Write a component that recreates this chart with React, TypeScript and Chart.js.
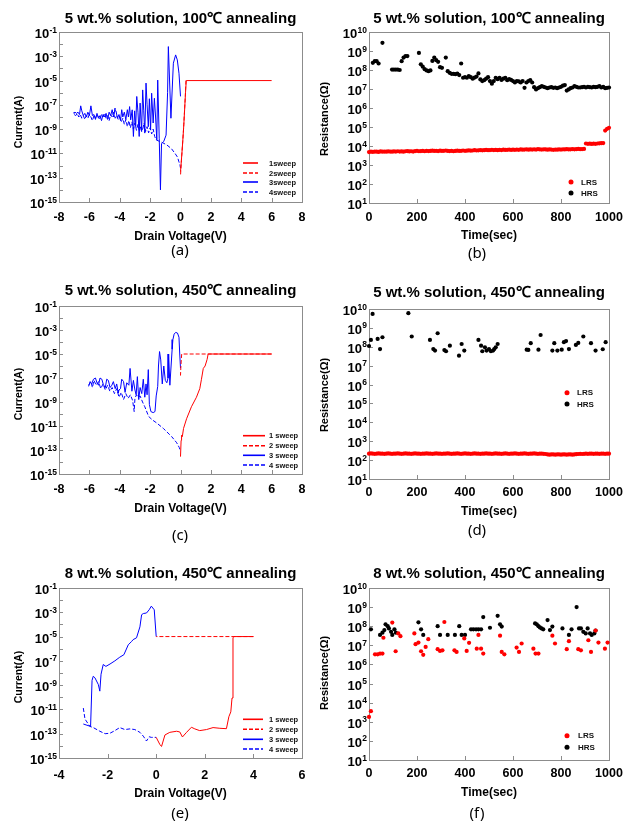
import React, { useEffect, useRef } from 'react';
import { Chart, registerables } from 'chart.js';

Chart.register(...registerables);

const SANS = "'Liberation Sans', Arial, Helvetica, sans-serif";
const CAPTION_FONT = "'Noto Sans', 'DejaVu Sans', sans-serif";

type Pair = [number, number];

// ---------------- axis ticks ----------------
const currentTicks = [1e-15, 1e-14, 1e-13, 1e-12, 1e-11, 1e-10, 1e-9, 1e-8, 1e-7, 1e-6, 1e-5, 1e-4, 1e-3, 1e-2, 1e-1];
const currentTickLabels = [1e-15, 1e-13, 1e-11, 1e-9, 1e-7, 1e-5, 1e-3, 1e-1];
const resistanceTicks = [1e1, 1e2, 1e3, 1e4, 1e5, 1e6, 1e7, 1e8, 1e9, 1e10];
const voltTicksWide = [-8, -6, -4, -2, 0, 2, 4, 6, 8];
const voltTicksNarrow = [-4, -2, 0, 2, 4, 6];
const timeTicks = [0, 200, 400, 600, 800, 1000];

// ---------------- (a) 5 wt.%, 100C : I-V sweeps [V, A] ----------------
const sweepA1: Pair[] = [[0, 3.2e-13], [0.08, 6.3e-12], [0.15, 1.0e-10], [0.22, 2.5e-9], [0.28, 6.3e-8], [0.33, 1.0e-6], [0.38, 1.0e-5], [6.0, 1.0e-5]];
const sweepA2: Pair[] = [[0.36, 1.0e-5], [0.32, 6.3e-7], [0.26, 2.5e-8], [0.2, 1.0e-9], [0.12, 3.2e-11], [0.06, 2.5e-12], [0.02, 4.0e-13], [0, 1.3e-13]];
const sweepA3: Pair[] = [
  [0, 5.0e-7], [-0.1, 4.0e-5], [-0.21, 5.0e-4], [-0.32, 1.3e-3], [-0.47, 2.7e-4], [-0.63, 7.9e-9], [-0.8, 6.3e-3], [-0.85, 1.0e-6],
  [-0.95, 3.2e-10], [-1.1, 1.0e-10], [-1.25, 6.3e-11], [-1.32, 1.0e-14], [-1.4, 1.6e-10], [-1.5, 1.1e-5], [-1.56, 1.3e-10], [-1.64, 1.0e-8],
  [-1.72, 3.5e-7], [-1.8, 3.2e-9], [-1.9, 9.1e-7], [-1.97, 8.7e-10], [-2.05, 3.2e-7], [-2.12, 1.6e-9], [-2.2, 1.0e-7], [-2.27, 6.2e-6],
  [-2.35, 4.7e-10], [-2.42, 3.2e-8], [-2.49, 1.7e-6], [-2.56, 6.3e-10], [-2.66, 1.4e-7], [-2.72, 2.5e-10], [-2.8, 2.5e-8], [-2.88, 4.9e-7],
  [-2.95, 1.6e-9], [-3.02, 3.2e-8], [-3.1, 2.5e-10], [-3.18, 3.9e-8], [-3.28, 5.8e-9], [-3.35, 7.2e-8], [-3.43, 1.0e-8], [-3.5, 4.0e-8],
  [-3.6, 6.3e-9], [-3.7, 2.5e-8], [-3.8, 1.0e-8], [-3.87, 4.0e-8], [-3.95, 5.0e-9], [-4.05, 1.6e-8], [-4.15, 7.9e-9], [-4.25, 3.2e-8],
  [-4.31, 5.4e-8], [-4.4, 1.0e-8], [-4.5, 4.0e-8], [-4.6, 1.3e-8], [-4.7, 2.5e-8], [-4.8, 6.3e-9], [-4.9, 2.0e-8], [-5.0, 1.0e-8],
  [-5.1, 1.6e-8], [-5.2, 5.0e-9], [-5.3, 1.3e-8], [-5.4, 7.9e-9], [-5.5, 2.0e-8], [-5.6, 6.3e-9], [-5.7, 1.6e-8], [-5.8, 1.3e-8],
  [-5.9, 8.3e-8], [-6.0, 1.3e-8], [-6.1, 2.5e-8], [-6.2, 1.0e-8], [-6.3, 2.0e-8], [-6.4, 1.3e-8], [-6.5, 3.2e-8], [-6.57, 8.3e-8],
  [-6.65, 1.6e-8], [-6.75, 2.5e-8], [-6.85, 2.0e-8], [-6.95, 2.5e-8], [-7.0, 2.0e-8],
];
const sweepA4: Pair[] = [
  [-7.0, 1.6e-8], [-6.9, 1.3e-8], [-6.8, 2.0e-8], [-6.7, 1.0e-8], [-6.6, 1.6e-8], [-6.5, 7.9e-9], [-6.4, 1.3e-8], [-6.3, 6.3e-9],
  [-6.2, 1.3e-8], [-6.1, 7.9e-9], [-6.0, 1.6e-8], [-5.9, 1.0e-8], [-5.8, 5.0e-9], [-5.7, 1.3e-8], [-5.6, 7.9e-9], [-5.5, 1.6e-8],
  [-5.4, 1.0e-8], [-5.3, 6.3e-9], [-5.2, 1.6e-8], [-5.1, 1.0e-8], [-5.0, 2.0e-8], [-4.9, 7.9e-9], [-4.8, 1.3e-8], [-4.7, 5.0e-9],
  [-4.6, 1.6e-8], [-4.5, 1.0e-8], [-4.4, 2.5e-8], [-4.3, 7.9e-9], [-4.2, 1.3e-8], [-4.1, 6.3e-9], [-4.0, 1.0e-8], [-3.9, 4.0e-9],
  [-3.8, 7.9e-9], [-3.7, 2.5e-9], [-3.6, 6.3e-9], [-3.5, 1.6e-9], [-3.4, 5.0e-9], [-3.3, 1.3e-9], [-3.2, 4.0e-9], [-3.1, 1.0e-9],
  [-3.0, 3.2e-9], [-2.9, 7.9e-10], [-2.8, 2.5e-9], [-2.7, 6.3e-10], [-2.6, 2.0e-9], [-2.5, 7.9e-10], [-2.4, 3.2e-9], [-2.3, 6.3e-10],
  [-2.2, 1.6e-9], [-2.1, 5.0e-10], [-2.0, 1.3e-9], [-1.9, 4.0e-10], [-1.8, 1.0e-9], [-1.7, 2.5e-10], [-1.6, 1.3e-10], [-1.4, 1.0e-10],
  [-1.2, 7.9e-11], [-0.9, 5.0e-11], [-0.6, 2.5e-11], [-0.36, 1.0e-11], [-0.2, 5.0e-12], [-0.1, 2.0e-12], [-0.03, 1.0e-12], [0, 6.3e-13],
];

// ---------------- (c) 5 wt.%, 450C ----------------
const sweepC1: Pair[] = [
  [0, 2.8e-14], [0.04, 6.3e-13], [0.07, 1.7e-12], [0.12, 1.3e-12], [0.2, 6.3e-12], [0.4, 4.0e-11], [0.72, 4.0e-10], [1.05, 2.5e-9],
  [1.27, 1.3e-8], [1.38, 7.9e-8], [1.5, 6.3e-7], [1.62, 1.0e-6], [1.75, 3.5e-6], [1.82, 1.0e-5], [6.0, 1.0e-5],
];
const sweepC2: Pair[] = [[6.0, 1.0e-5], [0.08, 1.0e-5], [0.05, 3.2e-6], [0.02, 6.3e-7], [0, 1.6e-7]];
const sweepC3: Pair[] = [
  [0, 6.3e-7], [-0.05, 1.0e-5], [-0.1, 2.5e-4], [-0.2, 5.6e-4], [-0.32, 6.3e-4], [-0.42, 4.5e-4], [-0.5, 1.6e-4], [-0.55, 2.5e-5],
  [-0.62, 1.0e-6], [-0.7, 2.5e-8], [-0.78, 1.0e-5], [-0.82, 1.0e-7], [-0.9, 4.0e-8], [-1.0, 6.3e-8], [-1.1, 1.0e-6], [-1.2, 3.2e-8],
  [-1.3, 3.2e-6], [-1.38, 1.6e-5], [-1.45, 1.0e-6], [-1.5, 2.0e-8], [-1.6, 3.2e-9], [-1.68, 1.6e-10], [-1.8, 1.3e-10], [-1.95, 1.6e-10],
  [-2.05, 6.3e-10], [-2.12, 5.0e-7], [-2.2, 4.0e-9], [-2.27, 3.2e-8], [-2.35, 2.5e-9], [-2.45, 7.9e-8], [-2.55, 5.0e-9], [-2.66, 1.6e-8],
  [-2.75, 1.6e-9], [-2.84, 1.3e-7], [-2.92, 4.0e-9], [-3.0, 1.0e-8], [-3.1, 6.3e-8], [-3.2, 7.9e-9], [-3.32, 6.3e-7], [-3.4, 2.5e-8],
  [-3.54, 4.0e-8], [-3.65, 6.3e-9], [-3.75, 5.0e-8], [-3.87, 7.9e-8], [-3.95, 1.3e-8], [-4.05, 1.0e-8], [-4.1, 5.6e-9], [-4.2, 3.2e-8],
  [-4.3, 1.3e-8], [-4.42, 5.0e-8], [-4.52, 2.5e-8], [-4.64, 1.6e-8], [-4.75, 6.3e-8], [-4.86, 7.9e-8], [-4.95, 1.6e-8], [-5.08, 2.8e-8],
  [-5.18, 7.9e-8], [-5.3, 1.0e-7], [-5.4, 2.5e-8], [-5.5, 4.0e-8], [-5.6, 1.0e-7], [-5.73, 7.9e-8], [-5.85, 3.2e-8], [-5.95, 5.0e-8],
  [-6.05, 2.0e-8],
];
const sweepC4: Pair[] = [
  [-6.05, 2.5e-8], [-5.9, 5.0e-8], [-5.8, 1.6e-8], [-5.7, 6.3e-8], [-5.55, 2.5e-8], [-5.4, 5.0e-8], [-5.25, 1.3e-8], [-5.1, 3.2e-8],
  [-4.95, 1.0e-8], [-4.8, 2.5e-8], [-4.65, 7.9e-9], [-4.5, 1.6e-8], [-4.35, 5.0e-9], [-4.2, 1.3e-8], [-4.05, 2.5e-9], [-3.9, 6.3e-9],
  [-3.75, 1.6e-9], [-3.6, 5.0e-9], [-3.45, 2.0e-9], [-3.3, 4.0e-9], [-3.15, 1.3e-9], [-3.05, 1.6e-10], [-3.0, 2.0e-9], [-2.9, 4.0e-9],
  [-2.8, 2.5e-9], [-2.66, 3.2e-9], [-2.5, 1.0e-9], [-2.35, 4.0e-10], [-2.1, 6.3e-11], [-1.85, 3.2e-11], [-1.57, 1.8e-11], [-1.13, 6.3e-12],
  [-0.58, 1.3e-12], [-0.25, 4.0e-13], [-0.08, 1.6e-13], [0, 7.9e-14],
];

// ---------------- (e) 8 wt.%, 450C ----------------
const sweepE1: Pair[] = [
  [0, 5.0e-14], [0.15, 1.3e-14], [0.22, 8.9e-15], [0.36, 7.9e-14], [0.56, 1.3e-13], [0.84, 1.6e-13], [0.97, 1.4e-13], [1.08, 5.4e-14],
  [1.25, 1.3e-13], [1.45, 3.4e-13], [1.59, 2.5e-13], [1.79, 1.8e-13], [2.07, 2.2e-13], [2.34, 3.2e-13], [2.62, 2.8e-13], [2.89, 2.6e-13],
  [2.99, 2.5e-12], [3.07, 6.3e-12], [3.12, 8.7e-11], [3.16, 7.9e-6], [3.2, 1.0e-5], [4.0, 1.0e-5],
];
const sweepE2: Pair[] = [[4.0, 1.0e-5], [0, 1.0e-5]];
const sweepE3: Pair[] = [
  [0, 1.0e-5], [-0.08, 1.6e-3], [-0.2, 3.2e-3], [-0.29, 1.6e-3], [-0.4, 8.7e-4], [-0.53, 7.9e-4], [-0.6, 6.3e-4], [-0.67, 6.3e-5],
  [-0.81, 7.9e-6], [-0.95, 5.6e-6], [-1.01, 4.0e-6], [-1.15, 2.1e-6], [-1.33, 3.2e-7], [-1.5, 2.0e-7], [-1.7, 1.0e-7], [-1.9, 5.5e-8],
  [-2.07, 3.5e-8], [-2.18, 5.0e-8], [-2.27, 7.9e-9], [-2.32, 3.2e-10], [-2.38, 1.1e-9], [-2.52, 4.0e-9], [-2.59, 5.4e-9], [-2.64, 2.5e-9],
  [-2.7, 4.0e-13], [-2.85, 5.0e-13], [-3.0, 6.3e-13],
];
const sweepE4: Pair[] = [
  [-3.0, 1.3e-11], [-2.93, 1.6e-12], [-2.73, 4.0e-13], [-2.59, 3.2e-13], [-2.32, 1.6e-13], [-2.1, 1.0e-13], [-1.9, 1.1e-13], [-1.7, 1.8e-13],
  [-1.5, 3.2e-13], [-1.29, 2.2e-13], [-1.08, 2.5e-13], [-0.88, 2.2e-13], [-0.67, 1.3e-13], [-0.53, 6.3e-14], [-0.4, 2.5e-14], [-0.29, 5.6e-14],
  [-0.2, 5.0e-14], [0, 5.0e-14],
];

// ---------------- retention time grid (sec) for (b) and (d) LRS ----------------
const timeGrid = [
  0, 8, 16, 24, 32, 40, 48, 56, 64, 72,
  80, 88, 96, 104, 112, 120, 128, 136, 144, 152,
  160, 168, 176, 184, 192, 200, 208, 216, 224, 232,
  240, 248, 256, 264, 272, 280, 288, 296, 304, 312,
  320, 328, 336, 344, 352, 360, 368, 376, 384, 392,
  400, 408, 416, 424, 432, 440, 448, 456, 464, 472,
  480, 488, 496, 504, 512, 520, 528, 536, 544, 552,
  560, 568, 576, 584, 592, 600, 608, 616, 624, 632,
  640, 648, 656, 664, 672, 680, 688, 696, 704, 712,
  720, 728, 736, 744, 752, 760, 768, 776, 784, 792,
  800, 808, 816, 824, 832, 840, 848, 856, 864, 872,
  880, 888, 896, 904, 912, 920, 928, 936, 944, 952,
  960, 968, 976, 984, 992, 1000,
];

// (b) LRS / HRS (ohm)
const lrsB = [
  4.8e3, 5.0e3, 4.9e3, 5.1e3, 5.0e3, 4.9e3, 5.2e3, 5.0e3, 5.1e3, 5.0e3,
  5.2e3, 5.1e3, 5.0e3, 5.2e3, 5.1e3, 5.3e3, 5.1e3, 5.2e3, 5.0e3, 5.3e3,
  5.4e3, 5.2e3, 5.3e3, 5.1e3, 5.4e3, 5.6e3, 5.3e3, 5.4e3, 5.5e3, 5.3e3,
  5.6e3, 5.4e3, 5.5e3, 5.7e3, 5.5e3, 5.6e3, 5.4e3, 5.7e3, 5.5e3, 5.6e3,
  5.8e3, 5.5e3, 5.4e3, 5.6e3, 5.3e3, 5.5e3, 5.7e3, 5.5e3, 5.6e3, 5.8e3,
  5.6e3, 5.7e3, 5.9e3, 5.7e3, 5.8e3, 6.0e3, 5.8e3, 5.9e3, 6.1e3, 5.9e3,
  6.0e3, 6.2e3, 6.0e3, 6.1e3, 6.3e3, 6.1e3, 6.2e3, 6.0e3, 6.3e3, 6.1e3,
  6.4e3, 6.2e3, 6.3e3, 6.5e3, 6.2e3, 6.4e3, 6.3e3, 6.5e3, 6.3e3, 6.6e3,
  6.4e3, 6.5e3, 6.7e3, 6.4e3, 6.6e3, 6.5e3, 6.7e3, 6.5e3, 6.8e3, 6.6e3,
  6.5e3, 6.7e3, 6.6e3, 6.4e3, 6.6e3, 6.5e3, 6.3e3, 6.5e3, 6.4e3, 6.6e3,
  6.5e3, 6.7e3, 6.6e3, 6.8e3, 6.6e3, 6.7e3, 6.9e3, 6.7e3, 6.8e3, 7.0e3,
  6.8e3, 6.9e3, 7.0e3, 1.35e4, 1.30e4, 1.32e4, 1.28e4, 1.33e4, 1.30e4, 1.35e4,
  1.38e4, 1.40e4, 1.42e4, 6.5e4, 8.0e4, 9.0e4,
];
const hrsB = [
  null, null, 2.4e8, 2.9e8, 2.9e8, 2.2e8, null, 2.7e9, null, null,
  null, null, 1.05e8, 1.05e8, 1.05e8, 1.05e8, 1.0e8, 2.9e8, 4.5e8, 5.4e8,
  5.4e8, null, null, null, null, null, 7.9e8, 2.0e8, 1.5e8, 1.1e8,
  9.5e7, 8.7e7, 9.5e7, 3.0e8, 4.5e8, 3.3e8, 2.7e8, 1.4e8, 1.3e8, null,
  4.5e8, 8.7e7, 7.1e7, 6.3e7, 6.3e7, 6.0e7, 6.5e7, 5.4e7, 2.2e8, 3.9e7,
  4.2e7, 3.9e7, 4.8e7, 4.2e7, 3.5e7, 4.0e7, 4.5e7, 6.6e7, 3.2e7, 2.6e7,
  2.9e7, 3.5e7, 4.2e7, 2.6e7, 1.9e7, 2.6e7, 3.9e7, 3.3e7, 3.9e7, 3.0e7,
  3.5e7, 3.9e7, 2.9e7, 3.3e7, 3.0e7, 2.6e7, 2.2e7, 2.6e7, 2.5e7, 2.2e7,
  2.6e7, 1.15e7, 2.2e7, 2.6e7, 2.9e7, 2.2e7, 1.25e7, 9.5e6, 1.1e7, 1.25e7,
  1.4e7, 1.3e7, 1.2e7, 1.1e7, 1.2e7, 1.25e7, 1.15e7, 1.2e7, 1.1e7, 1.2e7,
  1.3e7, 1.5e7, 1.6e7, 8.3e6, 9.5e6, 1.1e7, 1.2e7, 1.4e7, 1.3e7, 1.2e7,
  1.2e7, 1.25e7, 1.3e7, 1.2e7, 1.3e7, 1.25e7, 1.2e7, 1.3e7, 1.25e7, 1.3e7,
  1.4e7, 1.2e7, 1.3e7, 1.1e7, 1.15e7, 1.2e7,
];

// (d) LRS on time grid, HRS at its own times
const lrsD = [
  2.2e2, 2.25e2, 2.2e2, 2.15e2, 2.2e2, 2.25e2, 2.2e2, 2.2e2, 2.15e2, 2.2e2,
  2.25e2, 2.2e2, 2.15e2, 2.2e2, 2.2e2, 2.25e2, 2.2e2, 2.15e2, 2.2e2, 2.25e2,
  2.2e2, 2.2e2, 2.15e2, 2.2e2, 2.25e2, 2.2e2, 2.2e2, 2.15e2, 2.2e2, 2.2e2,
  2.25e2, 2.2e2, 2.2e2, 2.15e2, 2.2e2, 2.25e2, 2.2e2, 2.2e2, 2.15e2, 2.2e2,
  2.2e2, 2.25e2, 2.2e2, 2.15e2, 2.2e2, 2.2e2, 2.25e2, 2.2e2, 2.15e2, 2.2e2,
  2.25e2, 2.2e2, 2.2e2, 2.15e2, 2.2e2, 2.25e2, 2.2e2, 2.2e2, 2.15e2, 2.2e2,
  2.2e2, 2.25e2, 2.2e2, 2.2e2, 2.15e2, 2.2e2, 2.25e2, 2.2e2, 2.2e2, 2.15e2,
  2.2e2, 2.25e2, 2.2e2, 2.15e2, 2.2e2, 2.2e2, 2.25e2, 2.2e2, 2.15e2, 2.2e2,
  2.2e2, 2.25e2, 2.2e2, 2.15e2, 2.2e2, 2.2e2, 2.25e2, 2.2e2, 2.15e2, 2.2e2,
  2.2e2, 2.15e2, 2.1e2, 2.0e2, 1.95e2, 2.0e2, 2.0e2, 1.95e2, 2.0e2, 2.0e2,
  1.95e2, 2.0e2, 2.0e2, 1.95e2, 2.0e2, 2.0e2, 1.95e2, 2.0e2, 2.05e2, 2.1e2,
  2.15e2, 2.1e2, 2.15e2, 2.2e2, 2.15e2, 2.2e2, 2.2e2, 2.15e2, 2.2e2, 2.2e2,
  2.15e2, 2.2e2, 2.2e2, 2.15e2, 2.2e2, 2.2e2,
];
const hrsDTime = [
  0, 8, 15, 36, 46, 56, 164, 178, 254, 268, 275, 286, 314, 321, 337, 375, 386, 397,
  456, 467, 472, 483, 490, 500, 508, 517, 522, 528, 536, 657, 664, 674, 706, 715,
  764, 772, 785, 803, 812, 821, 833, 862, 872, 893, 925, 944, 974, 986,
];
const hrsD = [
  1.1e8, 2.3e8, 5.5e9, 2.6e8, 7.6e7, 3.2e8, 6.0e9, 3.5e8, 2.3e8, 7.6e7, 6.3e7, 5.2e8, 6.7e7, 5.8e7, 1.15e8, 3.4e7, 1.4e8, 6.3e7,
  2.3e8, 1.15e8, 5.8e7, 9.3e7, 6.3e7, 7.6e7, 5.8e7, 6.3e7, 7.6e7, 9.3e7, 1.4e8, 7.0e7, 6.8e7, 1.55e8, 7.0e7, 4.2e8,
  6.3e7, 1.55e8, 6.3e7, 7.0e7, 1.75e8, 2.0e8, 7.6e7, 1.25e8, 1.6e8, 3.5e8, 1.55e8, 6.3e7, 7.4e7, 1.75e8,
];

// (f) LRS / HRS at their own times
const lrsFTime = [
  0, 8, 25, 36, 46, 56, 60, 97, 111, 122, 131, 189, 194, 206, 217, 226, 236, 247, 286, 296, 306, 314,
  356, 365, 397, 407, 417, 449, 456, 467, 476, 546, 553, 564, 615, 625, 636, 685, 694, 706, 764, 775,
  824, 833, 872, 883, 914, 925, 944, 956, 983, 994,
];
const lrsF = [
  1.8e3, 3.6e3, 3.4e6, 3.4e6, 3.7e6, 3.7e6, 2.5e7, 1.55e8, 4.9e6, 4.2e7, 3.0e7, 4.2e7, 1.15e7, 1.4e7, 4.9e6, 3.2e6, 8.3e6, 2.1e7, 6.3e6, 5.1e6, 5.5e6, 1.66e8,
  5.5e6, 4.5e6, 2.3e7, 5.1e6, 1.35e7, 6.7e6, 3.5e7, 6.7e6, 3.7e6, 3.2e7, 4.5e6, 3.4e6, 7.6e6, 4.5e6, 1.25e7, 6.7e6, 3.7e6, 3.7e6, 3.2e7, 1.25e7,
  6.3e6, 1.66e7, 6.3e6, 5.5e6, 1.85e7, 4.5e6, 5.9e7, 1.4e7, 6.7e6, 1.4e7,
];
const hrsFTime = [
  8, 46, 56, 64, 69, 78, 83, 92, 97, 106, 112, 206, 217, 226, 286, 296, 328, 358, 376, 386, 400,
  425, 435, 446, 456, 467, 476, 504, 536, 546, 553, 692, 699, 706, 712, 719, 726, 744, 754, 764,
  806, 833, 844, 865, 875, 883, 893, 903, 911, 921, 928, 939, 944,
];
const hrsF = [
  6.9e7, 3.5e7, 4.6e7, 6.3e7, 1.26e8, 1.0e8, 7.7e7, 5.1e7, 3.5e7, 6.9e7, 4.6e7, 1.6e8, 6.9e7, 3.5e7, 1.0e8, 3.5e7, 3.5e7, 3.5e7, 1.0e8, 3.5e7, 3.5e7,
  6.9e7, 6.9e7, 6.9e7, 6.9e7, 6.9e7, 3.0e8, 8.3e7, 3.5e8, 1.26e8, 9.6e7, 1.4e8, 1.26e8, 1.0e8, 8.7e7, 7.7e7, 6.9e7, 2.1e8, 6.3e7, 9.6e7,
  7.7e7, 3.5e7, 6.9e7, 1.0e9, 7.7e7, 7.7e7, 5.1e7, 4.2e7, 7.7e7, 4.2e7, 3.5e7, 4.2e7, 5.9e7,
];

// ---------------- panel definitions ----------------
const RED = '#ff0000';
const BLUE = '#0000ff';

interface LineSeries { label: string; pts: Pair[]; color: string; dashed: boolean }
interface PointSeries { label: string; t: number[]; r: (number | null)[]; color: string }
interface PanelSpec {
  left: number; top: number; w: number; h: number;
  area: { l: number; r: number; t: number; b: number };
  title: string; titleY: number;
  xMin: number; xMax: number; xTicks: number[]; xTickY: number;
  xTitle: string; xTitleY: number;
  yMin: number; yMax: number; yTicks: number[]; yLabels: number[];
  yTitle: string; yTitleX: number; yTitleY: number; yTitleSize: number;
  caption: string; captionX: number; captionY: number;
  lines: LineSeries[]; points: PointSeries[];
  legend: { rows: number[]; x0: number; x1: number; textX: number; size: number };
}

const ivLines = (s1: Pair[], s2: Pair[], s3: Pair[], s4: Pair[], spaced: boolean): LineSeries[] => {
  const sp = spaced ? ' ' : '';
  return [
    { label: `1${sp}sweep`, pts: s1, color: RED, dashed: false },
    { label: `2${sp}sweep`, pts: s2, color: RED, dashed: true },
    { label: `3${sp}sweep`, pts: s3, color: BLUE, dashed: false },
    { label: `4${sp}sweep`, pts: s4, color: BLUE, dashed: true },
  ];
};

const panels: PanelSpec[] = [
  {
    left: 0, top: 0, w: 315, h: 270, area: { l: 59, r: 302, t: 32, b: 202 },
    title: '5 wt.% solution, 100℃ annealing', titleY: 23,
    xMin: -8, xMax: 8, xTicks: voltTicksWide, xTickY: 221, xTitle: 'Drain Voltage(V)', xTitleY: 240,
    yMin: 1e-15, yMax: 1e-1, yTicks: currentTicks, yLabels: currentTickLabels,
    yTitle: 'Current(A)', yTitleX: 19, yTitleY: 122, yTitleSize: 10.5,
    caption: '(a)', captionX: 180, captionY: 255,
    lines: ivLines(sweepA1, sweepA2, sweepA3, sweepA4, false), points: [],
    legend: { rows: [163, 173, 182, 192], x0: 243, x1: 258, textX: 269, size: 7.5 },
  },
  {
    left: 315, top: 0, w: 316, h: 270, area: { l: 54, r: 294, t: 32, b: 203 },
    title: '5 wt.% solution, 100℃ annealing', titleY: 23,
    xMin: 0, xMax: 1000, xTicks: timeTicks, xTickY: 221, xTitle: 'Time(sec)', xTitleY: 239,
    yMin: 1e1, yMax: 1e10, yTicks: resistanceTicks, yLabels: resistanceTicks,
    yTitle: 'Resistance(Ω)', yTitleX: 10, yTitleY: 119, yTitleSize: 11,
    caption: '(b)', captionX: 162, captionY: 258,
    lines: [],
    points: [
      { label: 'LRS', t: timeGrid, r: lrsB, color: RED },
      { label: 'HRS', t: timeGrid, r: hrsB, color: '#000000' },
    ],
    legend: { rows: [182, 193], x0: 256, x1: 256, textX: 266, size: 8 },
  },
  {
    left: 0, top: 270, w: 315, h: 275, area: { l: 59, r: 302, t: 36, b: 204 },
    title: '5 wt.% solution, 450℃ annealing', titleY: 25,
    xMin: -8, xMax: 8, xTicks: voltTicksWide, xTickY: 223, xTitle: 'Drain Voltage(V)', xTitleY: 242,
    yMin: 1e-15, yMax: 1e-1, yTicks: currentTicks, yLabels: currentTickLabels,
    yTitle: 'Current(A)', yTitleX: 19, yTitleY: 124, yTitleSize: 10.5,
    caption: '(c)', captionX: 180, captionY: 270,
    lines: ivLines(sweepC1, sweepC2, sweepC3, sweepC4, true), points: [],
    legend: { rows: [165.7, 175.7, 185.3, 195], x0: 243, x1: 265, textX: 269, size: 7.5 },
  },
  {
    left: 315, top: 270, w: 316, h: 275, area: { l: 54, r: 294, t: 39, b: 209 },
    title: '5 wt.% solution, 450℃ annealing', titleY: 27,
    xMin: 0, xMax: 1000, xTicks: timeTicks, xTickY: 226, xTitle: 'Time(sec)', xTitleY: 245,
    yMin: 1e1, yMax: 1e10, yTicks: resistanceTicks, yLabels: resistanceTicks,
    yTitle: 'Resistance(Ω)', yTitleX: 10, yTitleY: 125, yTitleSize: 11,
    caption: '(d)', captionX: 162, captionY: 265,
    lines: [],
    points: [
      { label: 'LRS', t: timeGrid, r: lrsD, color: RED },
      { label: 'HRS', t: hrsDTime, r: hrsD, color: '#000000' },
    ],
    legend: { rows: [122.7, 134], x0: 252, x1: 252, textX: 262, size: 8 },
  },
  {
    left: 0, top: 545, w: 315, h: 278, area: { l: 59, r: 302, t: 43, b: 213 },
    title: '8 wt.% solution, 450℃ annealing', titleY: 33,
    xMin: -4, xMax: 6, xTicks: voltTicksNarrow, xTickY: 234, xTitle: 'Drain Voltage(V)', xTitleY: 251.5,
    yMin: 1e-15, yMax: 1e-1, yTicks: currentTicks, yLabels: currentTickLabels,
    yTitle: 'Current(A)', yTitleX: 19, yTitleY: 132, yTitleSize: 10.5,
    caption: '(e)', captionX: 180, captionY: 273,
    lines: ivLines(sweepE1, sweepE2, sweepE3, sweepE4, true), points: [],
    legend: { rows: [174.3, 184.3, 194.3, 204], x0: 243, x1: 263, textX: 269, size: 7.5 },
  },
  {
    left: 315, top: 545, w: 316, h: 278, area: { l: 54, r: 294, t: 43, b: 215 },
    title: '8 wt.% solution, 450℃ annealing', titleY: 33,
    xMin: 0, xMax: 1000, xTicks: timeTicks, xTickY: 232, xTitle: 'Time(sec)', xTitleY: 250.5,
    yMin: 1e1, yMax: 1e10, yTicks: resistanceTicks, yLabels: resistanceTicks,
    yTitle: 'Resistance(Ω)', yTitleX: 10, yTitleY: 128, yTitleSize: 11,
    caption: '(f)', captionX: 162, captionY: 273,
    lines: [],
    points: [
      { label: 'LRS', t: lrsFTime, r: lrsF, color: RED },
      { label: 'HRS', t: hrsFTime, r: hrsF, color: '#000000' },
    ],
    legend: { rows: [190.7, 202.3], x0: 252, x1: 252, textX: 263, size: 8 },
  },
];

// ---------------- drawing helpers ----------------
function makeDecor(spec: PanelSpec) {
  return {
    id: 'decor',
    beforeDatasetsDraw(chart: any) {
      const { ctx, chartArea: a, scales } = chart;
      ctx.save();
      ctx.strokeStyle = '#8c8c8c';
      ctx.lineWidth = 1;
      ctx.strokeRect(a.left + 0.5, a.top + 0.5, a.right - a.left, a.bottom - a.top);
      ctx.beginPath();
      for (const v of spec.yTicks) {
        const y = Math.round(scales.y.getPixelForValue(v)) + 0.5;
        ctx.moveTo(a.left, y);
        ctx.lineTo(a.left + 4, y);
      }
      for (const v of spec.xTicks) {
        const x = Math.round(scales.x.getPixelForValue(v)) + 0.5;
        ctx.moveTo(x, a.bottom);
        ctx.lineTo(x, a.bottom - 4);
      }
      ctx.stroke();
      ctx.restore();
    },
    afterDraw(chart: any) {
      const { ctx, chartArea: a, scales } = chart;
      const cx = (a.left + a.right) / 2;
      ctx.save();
      ctx.fillStyle = '#000';
      ctx.textBaseline = 'alphabetic';

      // title
      ctx.font = `bold 15px ${SANS}`;
      ctx.textAlign = 'center';
      ctx.fillText(spec.title, cx, spec.titleY);

      // x tick labels
      ctx.font = `bold 12.5px ${SANS}`;
      for (const v of spec.xTicks) {
        ctx.fillText(String(v), scales.x.getPixelForValue(v), spec.xTickY);
      }

      // y tick labels: 10 with superscript exponent
      for (const v of spec.yLabels) {
        const y = scales.y.getPixelForValue(v);
        const exp = String(Math.round(Math.log10(v)));
        const rx = a.left - 2;
        ctx.textAlign = 'right';
        ctx.font = `bold 8.5px ${SANS}`;
        ctx.fillText(exp, rx, y + 0.5);
        const ew = ctx.measureText(exp).width;
        ctx.font = `bold 13px ${SANS}`;
        ctx.fillText('10', rx - ew - 0.3, y + 6);
      }

      // x title
      ctx.textAlign = 'center';
      ctx.font = `bold 12px ${SANS}`;
      ctx.fillText(spec.xTitle, cx, spec.xTitleY);

      // y title
      ctx.save();
      ctx.translate(spec.yTitleX, spec.yTitleY);
      ctx.rotate(-Math.PI / 2);
      ctx.font = `bold ${spec.yTitleSize}px ${SANS}`;
      ctx.textBaseline = 'middle';
      ctx.fillText(spec.yTitle, 0, 0);
      ctx.restore();

      // caption
      ctx.textAlign = 'center';
      ctx.font = `15px ${CAPTION_FONT}`;
      ctx.fillText(spec.caption, spec.captionX, spec.captionY);

      // legend
      const lg = spec.legend;
      ctx.textAlign = 'left';
      ctx.textBaseline = 'middle';
      ctx.font = `bold ${lg.size}px ${SANS}`;
      if (spec.lines.length) {
        spec.lines.forEach((s, i) => {
          const y = lg.rows[i];
          ctx.save();
          ctx.strokeStyle = s.color;
          ctx.lineWidth = 1.6;
          ctx.setLineDash(s.dashed ? [4, 2] : []);
          ctx.beginPath();
          ctx.moveTo(lg.x0, y);
          ctx.lineTo(lg.x1, y);
          ctx.stroke();
          ctx.restore();
          ctx.fillStyle = '#111';
          ctx.fillText(s.label, lg.textX, lg.rows[i] + 0.5);
        });
      } else {
        spec.points.forEach((s, i) => {
          ctx.fillStyle = s.color;
          ctx.beginPath();
          ctx.arc(lg.x0, lg.rows[i], 2.5, 0, Math.PI * 2);
          ctx.fill();
          ctx.fillStyle = '#111';
          ctx.fillText(s.label, lg.textX, lg.rows[i] + 0.5);
        });
      }
      ctx.restore();
    },
  };
}

function buildConfig(spec: PanelSpec): any {
  const datasets: any[] = [];
  for (const s of spec.lines) {
    datasets.push({
      label: s.label,
      data: s.pts.map(([x, y]) => ({ x, y })),
      showLine: true,
      borderColor: s.color,
      backgroundColor: s.color,
      borderWidth: 1,
      borderDash: s.dashed ? [4, 2] : [],
      pointRadius: 0,
      tension: 0,
      fill: false,
    });
  }
  for (const s of spec.points) {
    const data: { x: number; y: number }[] = [];
    s.t.forEach((t, i) => {
      const r = s.r[i];
      if (r !== null && r !== undefined) data.push({ x: t, y: r });
    });
    datasets.push({
      label: s.label,
      data,
      showLine: false,
      pointRadius: 2.1,
      pointBackgroundColor: s.color,
      pointBorderColor: s.color,
      pointBorderWidth: 0,
      backgroundColor: s.color,
      borderColor: s.color,
      clip: false,
    });
  }
  return {
    type: 'scatter',
    data: { datasets },
    options: {
      animation: false,
      responsive: false,
      maintainAspectRatio: false,
      events: [],
      layout: { padding: { left: 0, top: spec.area.t, right: spec.w - spec.area.r, bottom: 0 } },
      plugins: { legend: { display: false }, title: { display: false }, tooltip: { enabled: false } },
      scales: {
        x: {
          type: 'linear', position: 'bottom', min: spec.xMin, max: spec.xMax,
          ticks: { display: false }, grid: { display: false }, border: { display: false },
          afterFit: (s: any) => { s.height = spec.h - spec.area.b; },
        },
        y: {
          type: 'logarithmic', position: 'left', min: spec.yMin, max: spec.yMax,
          ticks: { display: false }, grid: { display: false }, border: { display: false },
          afterFit: (s: any) => { s.width = spec.area.l; },
        },
      },
    },
    plugins: [makeDecor(spec)],
  };
}

function Panel({ spec }: { spec: PanelSpec }) {
  const ref = useRef<HTMLCanvasElement | null>(null);
  useEffect(() => {
    if (!ref.current) return;
    const chart = new Chart(ref.current, buildConfig(spec));
    return () => chart.destroy();
  }, [spec]);
  return (
    <canvas
      ref={ref}
      width={spec.w}
      height={spec.h}
      style={{ position: 'absolute', left: spec.left, top: spec.top, width: spec.w, height: spec.h, display: 'block' }}
    />
  );
}

export default function App() {
  return (
    <div style={{ position: 'absolute', left: 0, top: 0, width: 631, height: 823, background: '#ffffff', overflow: 'hidden' }}>
      {panels.map((p, i) => (
        <Panel key={i} spec={p} />
      ))}
    </div>
  );
}
